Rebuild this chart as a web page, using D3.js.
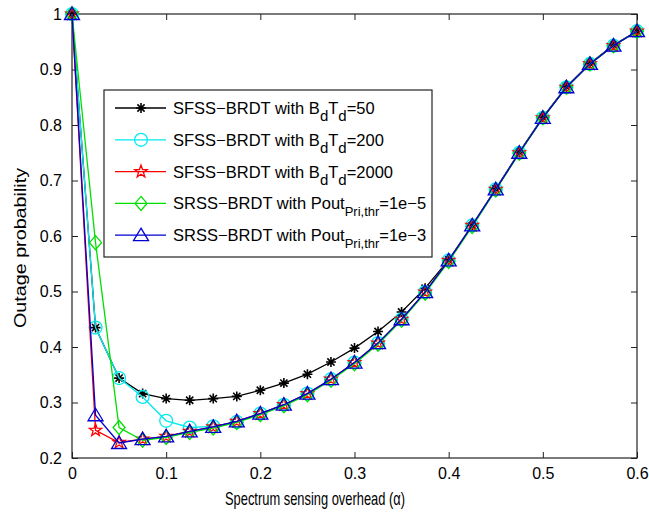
<!DOCTYPE html>
<html>
<head>
<meta charset="utf-8">
<script src="https://cdn.jsdelivr.net/npm/d3@7"></script>
<style>
  body { margin: 0; background: #fff; }
  svg text { font-family: "Liberation Sans", Arial, sans-serif; fill: #000; }
</style>
</head>
<body>
<div id="chart"></div>
<script>
// sensing overhead alpha
var alpha = [0, 0.025, 0.05, 0.075, 0.1, 0.125, 0.15, 0.175, 0.2, 0.225, 0.25, 0.275, 0.3,
  0.325, 0.35, 0.375, 0.4, 0.425, 0.45, 0.475, 0.5, 0.525, 0.55, 0.575, 0.6];

var sfss50 = [1, 0.435, 0.344, 0.316, 0.307, 0.304, 0.307, 0.311, 0.322, 0.335, 0.351, 0.373, 0.398,
  0.428, 0.463, 0.506, 0.557, 0.619, 0.685, 0.751, 0.814, 0.869, 0.911, 0.944, 0.969];
var sfss200 = [1, 0.435, 0.344, 0.310, 0.267, 0.255, 0.257, 0.265, 0.280, 0.296, 0.316, 0.342, 0.372,
  0.407, 0.450, 0.499, 0.556, 0.619, 0.684, 0.750, 0.813, 0.868, 0.910, 0.943, 0.969];
var sfss2000 = [1, 0.250, 0.228, 0.234, 0.239, 0.248, 0.256, 0.266, 0.280, 0.296, 0.316, 0.342, 0.372,
  0.407, 0.450, 0.499, 0.556, 0.619, 0.684, 0.750, 0.813, 0.868, 0.910, 0.943, 0.969];
var srss5 = [1, 0.588, 0.255, 0.232, 0.237, 0.246, 0.254, 0.264, 0.278, 0.294, 0.314, 0.340, 0.370,
  0.405, 0.448, 0.497, 0.554, 0.617, 0.683, 0.749, 0.813, 0.868, 0.910, 0.943, 0.969];
var srss3 = [1, 0.277, 0.227, 0.234, 0.239, 0.248, 0.256, 0.266, 0.280, 0.296, 0.316, 0.342, 0.372,
  0.407, 0.450, 0.499, 0.556, 0.619, 0.684, 0.750, 0.813, 0.868, 0.910, 0.943, 0.969];

var xTicks = [0, 0.1, 0.2, 0.3, 0.4, 0.5, 0.6];
var yTicks = [0.2, 0.3, 0.4, 0.5, 0.6, 0.7, 0.8, 0.9, 1];

var series = [
  { values: sfss50, color: "#000000", marker: "asterisk", label: [["SFSS−BRDT with B"], ["d", "sub"], ["T"], ["d", "sub"], ["=50"]] },
  { values: sfss200, color: "#00eaf0", marker: "circle", label: [["SFSS−BRDT with B"], ["d", "sub"], ["T"], ["d", "sub"], ["=200"]] },
  { values: sfss2000, color: "#ff0000", marker: "pentagram", label: [["SFSS−BRDT with B"], ["d", "sub"], ["T"], ["d", "sub"], ["=2000"]] },
  { values: srss5, color: "#00e000", marker: "diamond", label: [["SRSS−BRDT with Pout"], ["Pri,thr", "sub"], ["=1e−5"]] },
  { values: srss3, color: "#0000d0", marker: "triangle", label: [["SRSS−BRDT with Pout"], ["Pri,thr", "sub"], ["=1e−3"]] }
];

var W = 649, H = 512;
var margin = { top: 14, right: 12, bottom: 54, left: 72 };
var width = W - margin.left - margin.right;
var height = H - margin.top - margin.bottom;

var svg = d3.select("#chart").append("svg")
  .attr("width", W).attr("height", H);

var x = d3.scaleLinear().domain([0, 0.6]).range([0, width]);
var y = d3.scaleLinear().domain([0.2, 1]).range([height, 0]);

var g = svg.append("g").attr("transform", "translate(" + margin.left + "," + margin.top + ")");

// axes, ticks inside like matlab
var tickLen = 6;
g.append("g").attr("class", "x_axis").attr("transform", "translate(0," + height + ")")
  .call(d3.axisBottom(x).tickValues(xTicks).tickSizeInner(-tickLen).tickSizeOuter(0).tickPadding(10)
    .tickFormat(function(d) { return d === 0 ? "0" : d3.format(".1f")(d); }));
g.append("g").attr("class", "x_axis_top")
  .call(d3.axisTop(x).tickValues(xTicks).tickSizeInner(-tickLen).tickSizeOuter(0).tickFormat(""));
g.append("g").attr("class", "y_axis")
  .call(d3.axisLeft(y).tickValues(yTicks).tickSizeInner(-tickLen).tickSizeOuter(0).tickPadding(10)
    .tickFormat(function(d) { return d === 1 ? "1" : d3.format(".1f")(d); }));
g.append("g").attr("class", "y_axis_right").attr("transform", "translate(" + width + ",0)")
  .call(d3.axisRight(y).tickValues(yTicks).tickSizeInner(-tickLen).tickSizeOuter(0).tickFormat(""));

g.selectAll(".domain").remove();
g.selectAll(".tick line").attr("stroke", "#222").attr("stroke-width", 1);
g.selectAll(".x_axis text, .y_axis text").style("font-size", "16px")
  .style("font-family", "'Liberation Sans', Arial, sans-serif").attr("fill", "#000");

g.append("rect").attr("x", 0).attr("y", 0).attr("width", width).attr("height", height)
  .attr("fill", "none").attr("stroke", "#222").attr("stroke-width", 1.2);

// marker shapes
function markerPath(type) {
  if (type === "circle") return d3.symbol(d3.symbolCircle, 130)();
  if (type === "diamond") return "M0,-7L6,0L0,7L-6,0Z";
  if (type === "triangle") return "M0,-7L7.5,5.5L-7.5,5.5Z";
  if (type === "pentagram") {
    var pts = [];
    for (var i = 0; i < 10; i++) {
      var r = i % 2 === 0 ? 6.5 : 2.6;
      var a = -Math.PI / 2 + i * Math.PI / 5;
      pts.push([r * Math.cos(a), r * Math.sin(a)]);
    }
    return "M" + pts.join("L") + "Z";
  }
  // asterisk
  return "M-5,0L5,0M0,-5L0,5M-3.6,-3.6L3.6,3.6M-3.6,3.6L3.6,-3.6";
}

var line = d3.line()
  .x(function(d) { return x(d[0]); })
  .y(function(d) { return y(d[1]); });

series.forEach(function(s) {
  var pts = alpha.map(function(a, i) { return [a, s.values[i]]; });
  var sg = g.append("g").attr("class", "series");
  sg.append("path").attr("d", line(pts))
    .attr("fill", "none").attr("stroke", s.color).attr("stroke-width", 1.3);
  sg.selectAll(".mk").data(pts).enter().append("path")
    .attr("class", "mk")
    .attr("transform", function(d) { return "translate(" + x(d[0]) + "," + y(d[1]) + ")"; })
    .attr("d", markerPath(s.marker))
    .attr("fill", "none")
    .attr("stroke", s.color)
    .attr("stroke-width", s.marker === "asterisk" ? 1.6 : 1.3);
});

// legend
var legend = svg.append("g").attr("transform", "translate(104,90)");
legend.append("rect").attr("width", 328).attr("height", 167)
  .attr("fill", "#fff").attr("stroke", "#222").attr("stroke-width", 1.2);

series.forEach(function(s, i) {
  var row = legend.append("g").attr("transform", "translate(0," + (18 + i * 31.8) + ")");
  row.append("line").attr("x1", 11).attr("x2", 62).attr("y1", 0).attr("y2", 0)
    .attr("stroke", s.color).attr("stroke-width", 1.3);
  row.append("path").attr("transform", "translate(37,0)").attr("d", markerPath(s.marker))
    .attr("fill", "none").attr("stroke", s.color)
    .attr("stroke-width", s.marker === "asterisk" ? 1.6 : 1.3);
  var t = row.append("text").attr("x", 69).attr("y", 6).style("font-size", "16.5px");
  s.label.forEach(function(part) {
    var sp = t.append("tspan").text(part[0]);
    if (part[1] === "sub") sp.attr("dy", 7).style("font-size", part[0] === "d" ? "15px" : "13px");
    else if (sp.node().previousSibling) sp.attr("dy", -7);
  });
});

// axis titles
svg.append("text")
  .attr("x", 315).attr("y", 505)
  .attr("text-anchor", "middle")
  .attr("textLength", 180).attr("lengthAdjust", "spacingAndGlyphs")
  .style("font-size", "18.5px")
  .text("Spectrum sensing overhead (α)");

svg.append("text")
  .attr("transform", "translate(26,248) rotate(-90)")
  .attr("text-anchor", "middle")
  .attr("textLength", 160).attr("lengthAdjust", "spacingAndGlyphs")
  .style("font-size", "16.5px")
  .text("Outage probability");
</script>
</body>
</html>
